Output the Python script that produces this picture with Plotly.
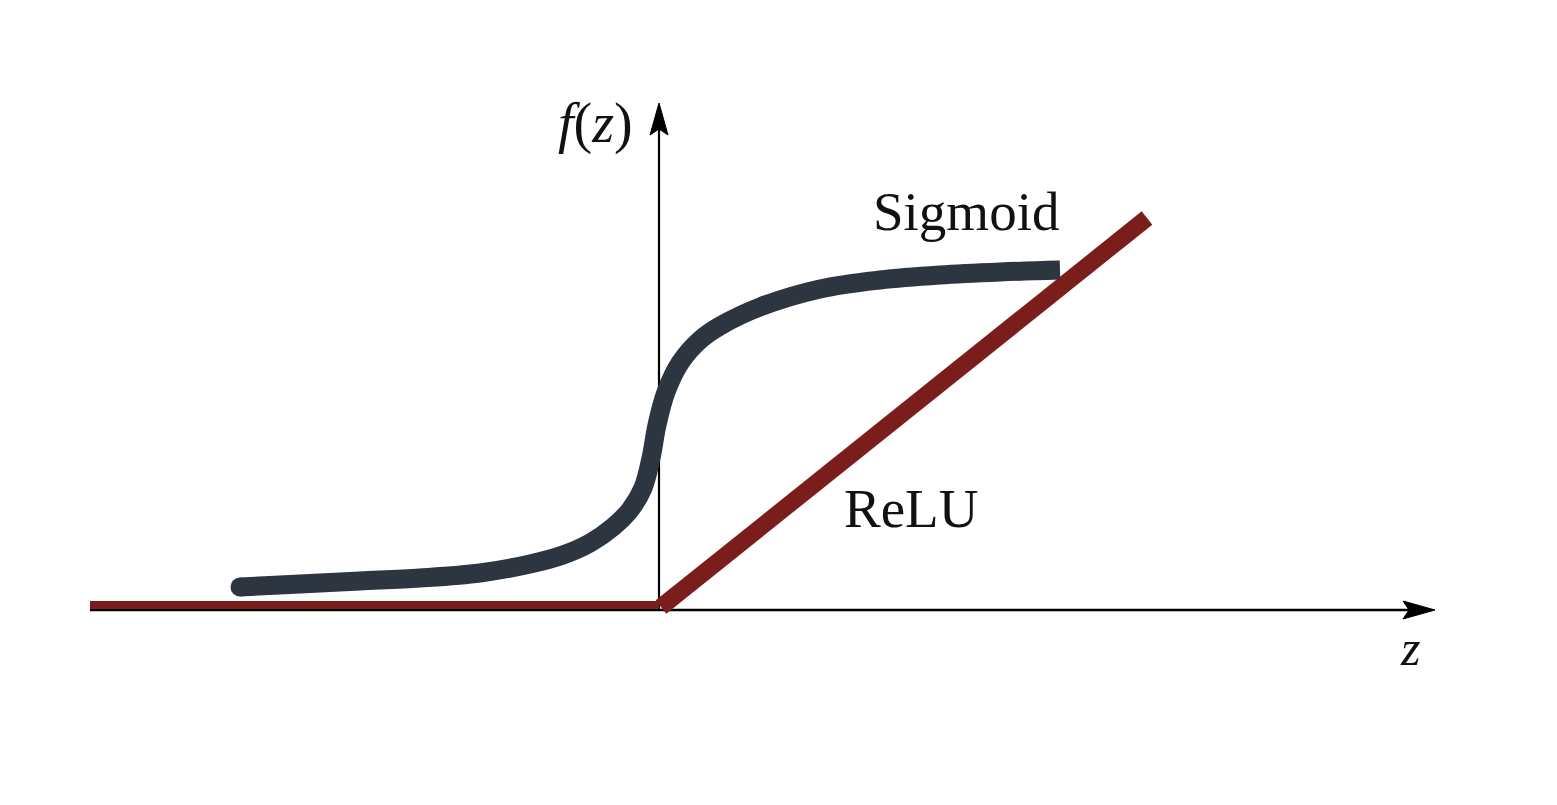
import plotly.graph_objects as go

# values (1 unit = 100 px, origin where the axes cross)
sigmoid_z = [-4.19, -3.59, -2.99, -2.39, -1.79, -1.29, -0.96, -0.69, -0.46, -0.29, -0.16, -0.08,
             -0.02, 0.07, 0.21, 0.41, 0.61, 1.01, 1.61, 2.21, 2.81, 3.41, 4.01]
sigmoid_f = [0.23, 0.26, 0.29, 0.32, 0.37, 0.46, 0.55, 0.67, 0.83, 1.00, 1.22, 1.52,
             1.85, 2.18, 2.47, 2.70, 2.84, 3.03, 3.21, 3.30, 3.35, 3.38, 3.40]

relu_flat_z = [-5.69, 0.0]
relu_flat_f = [0.05, 0.05]
relu_ramp_z = [0.02, 4.88]
relu_ramp_f = [0.03, 3.92]

x_axis = [-5.69, 7.76]   # start, arrow tip
y_axis = [0.0, 5.07]     # start, arrow tip

labels = ["Sigmoid", "ReLU", "<i>f</i>(<i>z</i>)", "<i>z</i>"]
label_z = [3.07, 2.52, -0.64, 7.51]
label_f = [3.99, 1.02, 4.87, -0.38]
label_size = [55, 55, 56, 50]

SIG_COLOR = "#2c3540"
RELU_COLOR = "#7b1e1b"
FONT = "Liberation Serif"
SIG_W = 19

HEAD_LEN = 0.32
HEAD_HALF = 0.09
NOTCH = 0.06


def arrow_path(tip_x, tip_y, dx, dy):
    # dx, dy: unit direction of the arrow
    px, py = -dy, dx
    bx, by = tip_x - dx * HEAD_LEN, tip_y - dy * HEAD_LEN
    nx, ny = bx + dx * NOTCH, by + dy * NOTCH
    pts = [(tip_x, tip_y),
           (bx + px * HEAD_HALF, by + py * HEAD_HALF),
           (nx, ny),
           (bx - px * HEAD_HALF, by - py * HEAD_HALF)]
    return "M " + " L ".join(f"{a},{b}" for a, b in pts) + " Z"


fig = go.Figure()

# axes
fig.add_trace(go.Scatter(x=[x_axis[0], x_axis[1] - HEAD_LEN + NOTCH], y=[0, 0], mode="lines",
                         line=dict(color="black", width=2.5), hoverinfo="skip"))
fig.add_trace(go.Scatter(x=[0, 0], y=[y_axis[0], y_axis[1] - HEAD_LEN + NOTCH], mode="lines",
                         line=dict(color="black", width=2.2), hoverinfo="skip"))

# relu
fig.add_trace(go.Scatter(x=relu_flat_z, y=relu_flat_f, mode="lines",
                         line=dict(color=RELU_COLOR, width=8), name="ReLU"))
fig.add_trace(go.Scatter(x=relu_ramp_z, y=relu_ramp_f, mode="lines",
                         line=dict(color=RELU_COLOR, width=17), name="ReLU"))

# sigmoid (round cap on the left end)
fig.add_trace(go.Scatter(x=sigmoid_z, y=sigmoid_f, mode="lines", line_shape="spline",
                         line=dict(color=SIG_COLOR, width=SIG_W), name="Sigmoid"))
fig.add_trace(go.Scatter(x=sigmoid_z[:1], y=sigmoid_f[:1], mode="markers",
                         marker=dict(color=SIG_COLOR, size=SIG_W, line=dict(width=0)),
                         hoverinfo="skip"))

fig.add_shape(type="path", path=arrow_path(x_axis[1], 0, 1, 0),
              fillcolor="black", line=dict(color="black", width=1))
fig.add_shape(type="path", path=arrow_path(0, y_axis[1], 0, 1),
              fillcolor="black", line=dict(color="black", width=1))

for txt, zx, fy, sz in zip(labels, label_z, label_f, label_size):
    fig.add_annotation(x=zx, y=fy, text=txt, showarrow=False,
                       xanchor="center", yanchor="middle",
                       font=dict(family=FONT, size=sz, color="#111111"))

# ranges shifted by the 8px page margin so the origin lands where it is in the picture
fig.update_layout(
    width=1557, height=805,
    margin=dict(l=0, r=0, t=0, b=0),
    paper_bgcolor="white", plot_bgcolor="white",
    showlegend=False,
    xaxis=dict(range=[-6.51, 9.06], visible=False, fixedrange=True),
    yaxis=dict(range=[-2.03, 6.02], visible=False, fixedrange=True),
)

fig.write_html("out.html")
